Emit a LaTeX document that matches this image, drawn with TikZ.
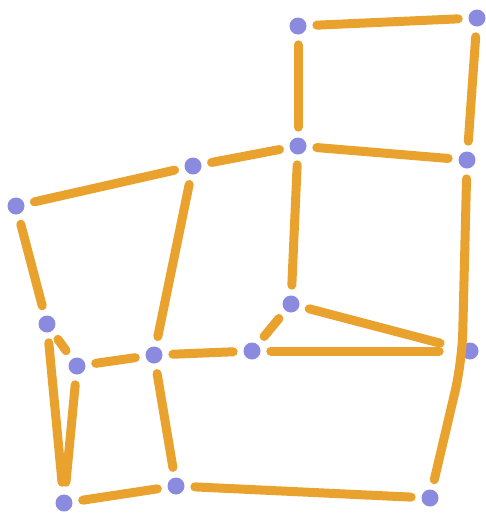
\documentclass[tikz,border=0pt]{standalone}
\usepackage{tikz}
\usetikzlibrary{calc}
\definecolor{edgeorange}{RGB}{232,162,45}
\definecolor{vertblue}{RGB}{138,138,222}
\newlength{\unitpx}
\setlength{\unitpx}{0.02cm}
\tikzset{vert/.style={circle,fill=vertblue,inner sep=0pt,minimum size=17\unitpx},
  link/.style={edgeorange,line width=9\unitpx,line cap=round,shorten <=10\unitpx,shorten >=10\unitpx}}

\begin{document}
\begin{tikzpicture}[x=0.02cm,y=-0.02cm]
\useasboundingbox (0,0) rectangle (486,514);
% vertices
\node[vert] (a) at (298,26) {};
\node[vert] (b) at (477,18) {};
\node[vert] (c) at (298,146) {};
\node[vert] (d) at (467,160) {};
\node[vert] (e) at (193,166) {};
\node[vert] (f) at (16,206) {};
\node[vert] (g) at (291,304) {};
\node[vert] (h) at (47,324) {};
\node[vert] (i) at (77,366) {};
\node[vert] (j) at (154,355) {};
\node[vert] (k) at (252,351) {};
\node[vert] (l) at (470,351) {};
\node[vert] (m) at (64,503) {};
\node[vert] (n) at (176,486) {};
\node[vert] (o) at (430,498) {};
\coordinate (bend) at (462,362);
% edges
\draw[link] (a) -- (b);
\draw[link] (a) -- (c);
\draw[link] (b) -- (d);
\draw[link] (c) -- (d);
\draw[link] (c) -- (e);
\draw[link] (c) -- (g);
\draw[link] (e) -- (f);
\draw[link] (e) -- (j);
\draw[link] (f) -- (h);
\draw[link] (h) -- (i);
\draw[link,shorten >=12\unitpx] (h) -- (m);
\draw[link] (i) -- (j);
\draw[link,shorten >=12\unitpx] (i) -- (m);
\draw[link] (j) -- (k);
\draw[link] (j) -- (n);
\draw[link] (k) -- (g);
\draw[link,shorten >=22\unitpx] (g) -- (l);
\draw[link,shorten >=22\unitpx] (k) -- (l);
\draw[link] (m) -- (n);
\draw[link] (n) -- (o);
\draw[link,rounded corners=30\unitpx] (d) -- (bend) -- (o);
\end{tikzpicture}
\end{document}
